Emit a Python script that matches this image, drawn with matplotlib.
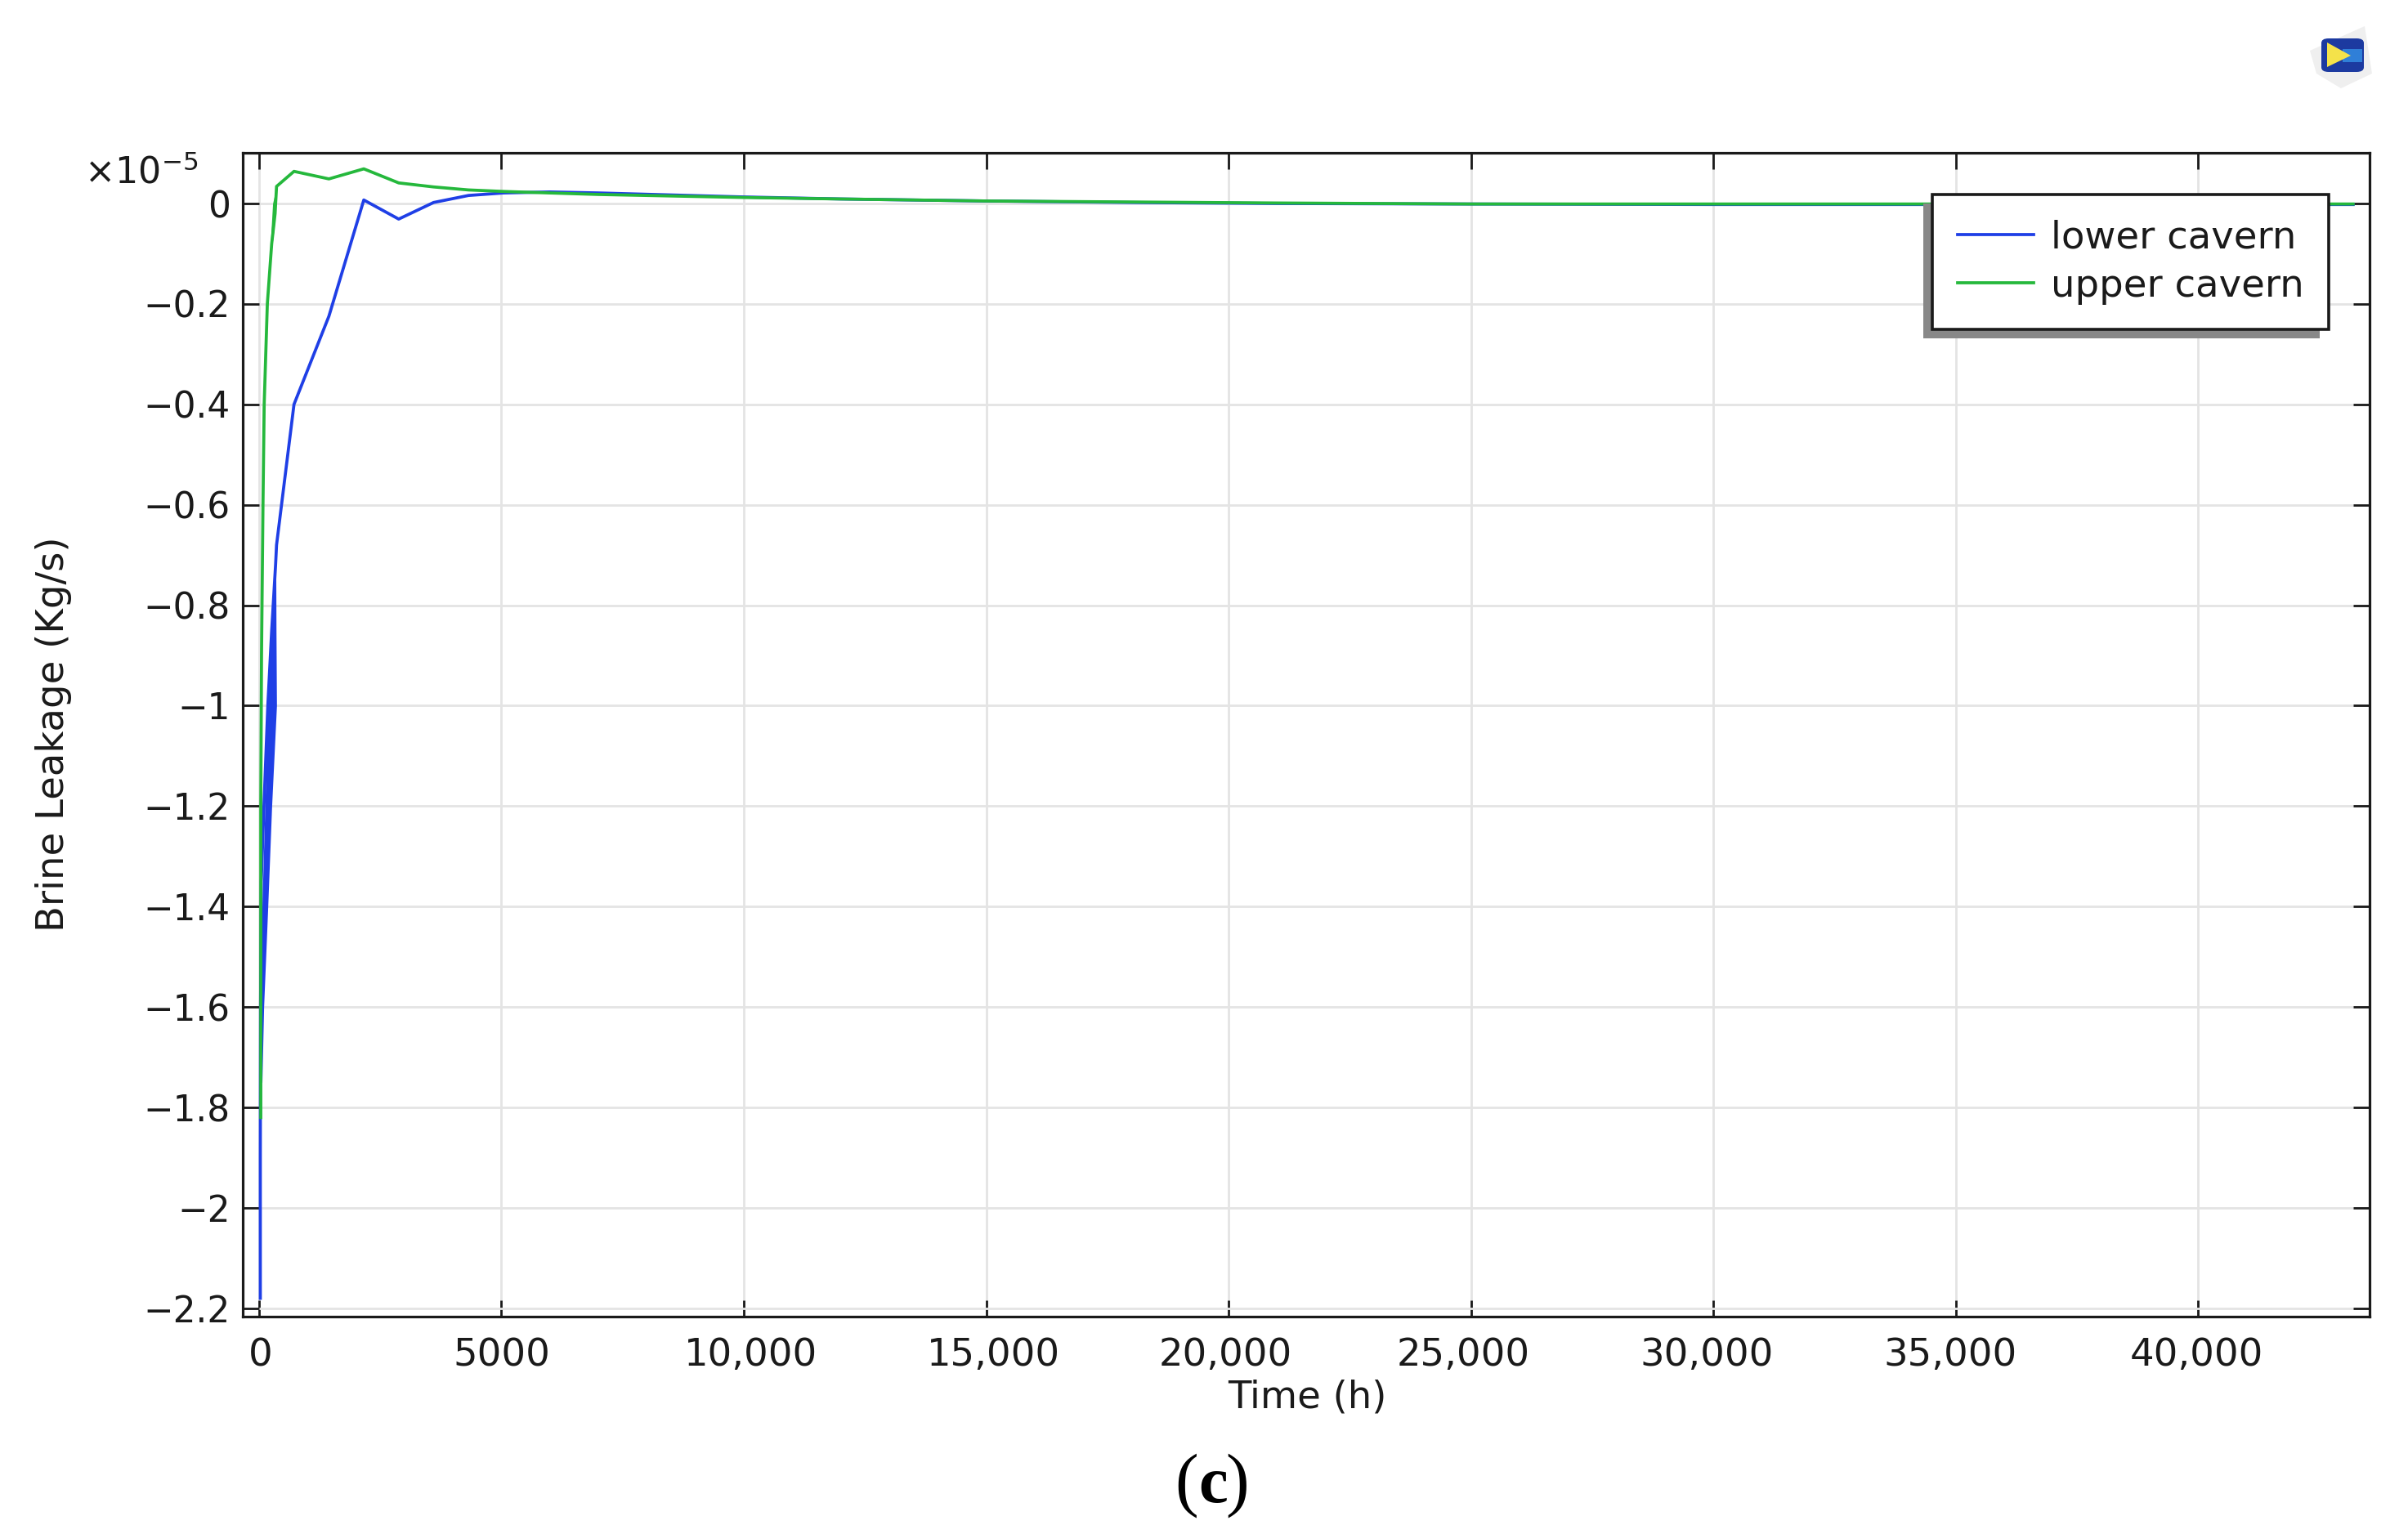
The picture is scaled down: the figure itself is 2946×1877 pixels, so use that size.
import numpy as np
from matplotlib import pyplot as plt
from matplotlib.patches import Rectangle, Polygon, FancyBboxPatch
from matplotlib.transforms import ScaledTranslation

plt.rcParams['font.family'] = ['DejaVu Sans']
plt.rcParams['mathtext.fontset'] = 'dejavusans'

W, H = 2946, 1877

# values in units of 1e-5 kg/s
lower_t = [25, 25, 30, 45, 100, 180, 260, 340, 360, 720, 1440, 2160, 2880, 3600, 4320, 5040, 6000, 7000, 8500,
           10000, 12000, 15000, 18000, 21000, 25000, 30000, 35000, 40000, 43200]
lower_y = [-2.18, -1.9, -1.6, -1.35, -1.2, -1.0, -0.85, -0.72, -0.68, -0.40, -0.2245, 0.007, -0.031, 0.002, 0.016,
           0.021, 0.023, 0.021, 0.017, 0.013, 0.009, 0.005, 0.002, 0.000, -0.001, -0.002, -0.002, -0.002, -0.002]
upper_t = [35, 35, 50, 80, 105, 170, 260, 330, 360, 720, 1440, 2160, 2880, 3600, 4320, 5040, 6000, 7000,
           8500, 10000, 12000, 15000, 18000, 21000, 25000, 30000, 35000, 40000, 43200]
upper_y = [-1.82, -1.2, -0.9, -0.6, -0.4, -0.2, -0.08, -0.02, 0.034, 0.064, 0.049, 0.069, 0.041, 0.033, 0.027,
           0.024, 0.021, 0.018, 0.015, 0.012, 0.009, 0.005, 0.003, 0.001, -0.001, -0.001, -0.001, -0.001, -0.001]

# the oscillating part close to t=0 reads as solid wedges
lower_band_y = [-1.75, -1.6, -1.4, -1.2, -1.0, -0.85, -0.72]
lower_band_l = [20, 35, 60, 120, 180, 260, 325]
lower_band_r = [60, 95, 180, 260, 360, 350, 345]
upper_band_y = [-0.09, -0.05, 0.0, 0.03]
upper_band_l = [230, 250, 280, 350]
upper_band_r = [260, 310, 345, 365]

xticks = [0, 5000, 10000, 15000, 20000, 25000, 30000, 35000, 40000]
xticklabels = ['0', '5000', '10,000', '15,000', '20,000', '25,000', '30,000', '35,000', '40,000']
# the labels do not sit exactly under their ticks in the original (pixels)
xlabel_shift = [2, 0, 9, 9, -4, -9, -8, -6, -2]
yticks = [0, -0.2, -0.4, -0.6, -0.8, -1, -1.2, -1.4, -1.6, -1.8, -2, -2.2]
yticklabels = ['0', '\u22120.2', '\u22120.4', '\u22120.6', '\u22120.8', '\u22121', '\u22121.2', '\u22121.4',
               '\u22121.6', '\u22121.8', '\u22122', '\u22122.2']

blue = '#1f3fe6'
green = '#25b83c'


def fx(px):
    return px / W


def fy(py):
    return 1 - py / H


fig = plt.figure(figsize=(W / 100, H / 100), dpi=100)
ax = fig.add_axes([fx(297), fy(1611), fx(2899 - 297), (1611 - 187) / H])

ax.plot(lower_t, lower_y, color=blue, lw=2.7, label='lower cavern', zorder=3)
ax.fill_betweenx(lower_band_y, lower_band_l, lower_band_r, color=blue, lw=0, zorder=3)
ax.plot(upper_t, upper_y, color=green, lw=2.7, label='upper cavern', zorder=4)
ax.fill_betweenx(upper_band_y, upper_band_l, upper_band_r, color=green, lw=0, zorder=4)

ax.set_xlim(-337, 43540)
ax.set_ylim(-2.2165, 0.1009)
ax.set_xticks(xticks)
ax.set_xticklabels(xticklabels)
ax.set_yticks(yticks)
ax.set_yticklabels(yticklabels)
ax.tick_params(axis='both', direction='in', length=14.5, width=2, top=True, right=True, colors='#1a1a1a')
ax.tick_params(axis='x', pad=18, labelsize=33.5)
ax.tick_params(axis='y', pad=11, labelsize=31.5)
for lab, d in zip(ax.get_xticklabels(), xlabel_shift):
    lab.set_transform(lab.get_transform() + ScaledTranslation(d / 100, 0, fig.dpi_scale_trans))
ax.grid(color='#e4e4e4', lw=2)
ax.set_axisbelow(True)
for s in ax.spines.values():
    s.set_linewidth(2.3)
    s.set_color('#1a1a1a')

fig.text(fx(1599), fy(1710), 'Time (h)', fontsize=33.5, ha='center', va='center', color='#1a1a1a')
fig.text(fx(66), fy(898), 'Brine Leakage (Kg/s)', fontsize=33.5, rotation=90, ha='center', va='center',
         color='#1a1a1a')
fig.text(fx(103), fy(212), r'$\times 10^{-5}$', fontsize=32, ha='left', va='center', color='#1a1a1a')
fig.text(fx(1452), fy(1838), '(', fontsize=62, family='Liberation Serif', ha='center', va='baseline', color='black')
fig.text(fx(1484), fy(1838), 'c', fontsize=58, fontweight='bold', family='Liberation Serif',
         ha='center', va='baseline', color='black')
fig.text(fx(1514), fy(1838), ')', fontsize=62, family='Liberation Serif', ha='center', va='baseline', color='black')

leg = ax.legend(loc='upper right', bbox_to_anchor=(fx(2849), fy(238)), bbox_transform=fig.transFigure,
                borderaxespad=0, fontsize=33.5, fancybox=False, framealpha=1, edgecolor='#1a1a1a',
                handlelength=2.0, handletextpad=0.45, labelspacing=0.3, borderpad=0.66,
                shadow={'ox': -8, 'oy': -8, 'facecolor': '#888888', 'edgecolor': 'none', 'alpha': 1})
leg.get_frame().set_linewidth(2.6)
leg.set_zorder(10)
for t in leg.get_texts():
    t.set_color('#1a1a1a')

# small cube icon in the top right corner
tr = fig.transFigure
halo = [(2826, 62), (2893, 32), (2902, 90), (2864, 108), (2834, 90)]
fig.add_artist(Polygon([(fx(a), fy(b)) for a, b in halo], transform=tr, fc='#efefef', ec='none'))
fig.add_artist(FancyBboxPatch((fx(2840), fy(88)), fx(52), 41 / H, boxstyle='round,pad=0,rounding_size=0.003',
                              transform=tr, fc='#1c3aa0', ec='none'))
fig.add_artist(Rectangle((fx(2866), fy(76)), fx(24), 16 / H, transform=tr, fc='#2f7fd8', ec='none'))
tri = [(2847, 52), (2847, 82), (2876, 68)]
fig.add_artist(Polygon([(fx(a), fy(b)) for a, b in tri], transform=tr, fc='#f4e24a', ec='none'))

plt.savefig('out.png', dpi=100)
